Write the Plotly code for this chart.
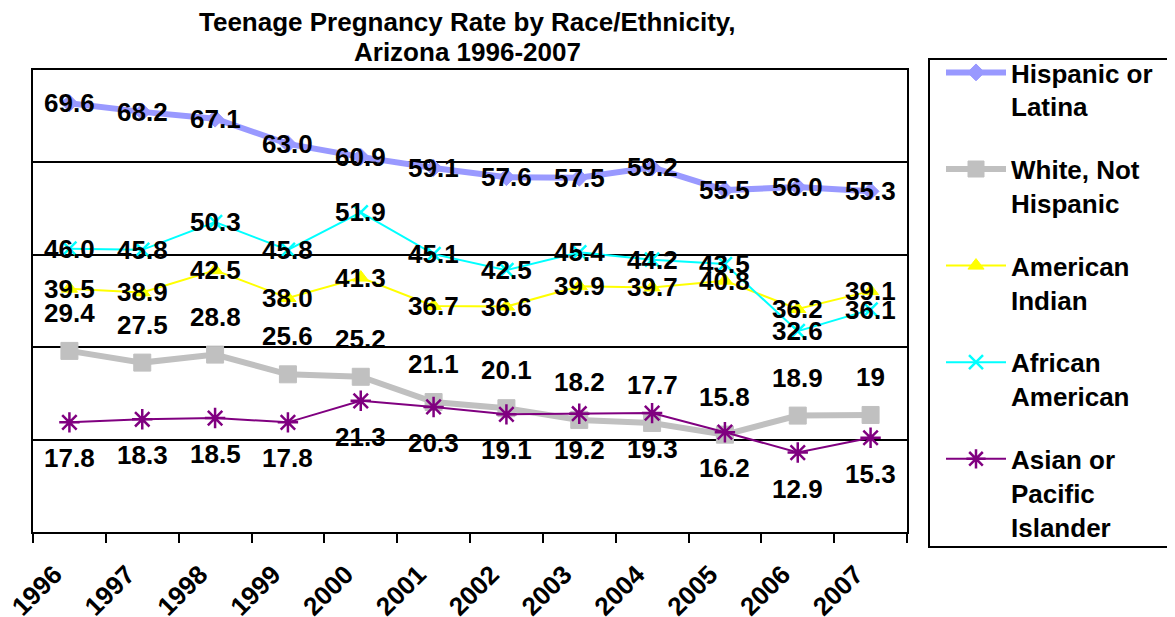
import plotly.graph_objects as go

years = ["1996", "1997", "1998", "1999", "2000", "2001", "2002", "2003", "2004", "2005", "2006", "2007"]
hispanic = [69.6, 68.2, 67.1, 63.0, 60.9, 59.1, 57.6, 57.5, 59.2, 55.5, 56.0, 55.3]
white = [29.4, 27.5, 28.8, 25.6, 25.2, 21.1, 20.1, 18.2, 17.7, 15.8, 18.9, 19]
american_indian = [39.5, 38.9, 42.5, 38.0, 41.3, 36.7, 36.6, 39.9, 39.7, 40.8, 36.2, 39.1]
african_american = [46.0, 45.8, 50.3, 45.8, 51.9, 45.1, 42.5, 45.4, 44.2, 43.5, 32.6, 36.1]
asian = [17.8, 18.3, 18.5, 17.8, 21.3, 20.3, 19.1, 19.2, 19.3, 16.2, 12.9, 15.3]
title_lines = ["Teenage Pregnancy Rate by Race/Ethnicity,", "Arizona 1996-2007"]

FONT = "Liberation Sans, Arial, sans-serif"
FS = 26
W, H = 1167, 609
L, R, T, B = 25, 268, 62, 85
PW, PH = W - L - R, H - T - B


def px(fx):
    return (fx - L) / PW


def py(fy):
    return (H - B - fy) / PH


bold = dict(family=FONT, size=FS, color="black", weight="bold")

series = [
    ("Hispanic or<br>Latina", hispanic, "#9999FF", 6, "diamond", 13, 0, ".1f"),
    ("White, Not<br>Hispanic", white, "#C0C0C0", 6, "square", 17, 38, "g"),
    ("American<br>Indian", american_indian, "#FFFF00", 2, "triangle-up", 14, 0, ".1f"),
    ("African<br>American", african_american, "#00FFFF", 2, "x-thin", 14, 0, ".1f"),
    ("Asian or<br>Pacific<br>Islander", asian, "#800080", 2, "asterisk", 17, -36, "g"),
]

fig = go.Figure()
annotations = []
for i, (name, vals, color, lw, sym, ms, shift, fmt) in enumerate(series):
    fig.add_trace(go.Scatter(
        x=years, y=vals, name=name, mode="lines+markers",
        legendgroup=f"g{i}",
        line=dict(color=color, width=lw),
        marker=dict(symbol=sym, size=ms, color=color,
                    line=dict(color=color, width=2.5 if sym in ("asterisk", "x-thin") else 1)),
    ))
    for j, v in enumerate(vals):
        annotations.append(dict(
            x=j, y=v, xref="x", yref="y", text=format(v, fmt),
            showarrow=False, yshift=shift, font=bold,
        ))

for k, (line, fy) in enumerate(zip(title_lines, [14, 44])):
    annotations.append(dict(
        text=line, x=px(459), y=py(fy), xref="paper", yref="paper",
        xanchor="center", yanchor="middle", showarrow=False, font=bold,
    ))

fig.update_layout(
    width=W, height=H,
    margin=dict(l=L, r=R, t=T, b=B, autoexpand=False),
    paper_bgcolor="white", plot_bgcolor="white",
    font=bold,
    annotations=annotations,
    shapes=[dict(type="rect", xref="paper", yref="paper",
                 x0=px(921), x1=px(1165), y0=py(539), y1=py(51),
                 line=dict(color="black", width=2), fillcolor="rgba(0,0,0,0)")],
    showlegend=True,
    legend=dict(
        x=px(933), y=py(41), xanchor="left", yanchor="top",
        borderwidth=0, bgcolor="rgba(0,0,0,0)",
        valign="top", tracegroupgap=26, itemwidth=60, maxheight=600,
        font=bold, itemclick=False, itemdoubleclick=False,
    ),
)

fig.update_xaxes(
    type="category", range=[-0.5, 11.5], autorange=False, automargin=False,
    showline=True, linecolor="black", linewidth=2, mirror=True,
    ticks="outside", tickson="boundaries", ticklen=9, tickwidth=2, tickcolor="black",
    tickangle=-45, showgrid=False, ticklabelstandoff=15, ticklabelshift=-15,
    tickfont=bold,
)
fig.update_yaxes(
    range=[0, 75], autorange=False, automargin=False, dtick=15, showticklabels=False, ticks="",
    showgrid=True, gridcolor="black", gridwidth=2, zeroline=False,
    showline=True, linecolor="black", linewidth=2, mirror=True,
)

fig.write_html("out.html")
